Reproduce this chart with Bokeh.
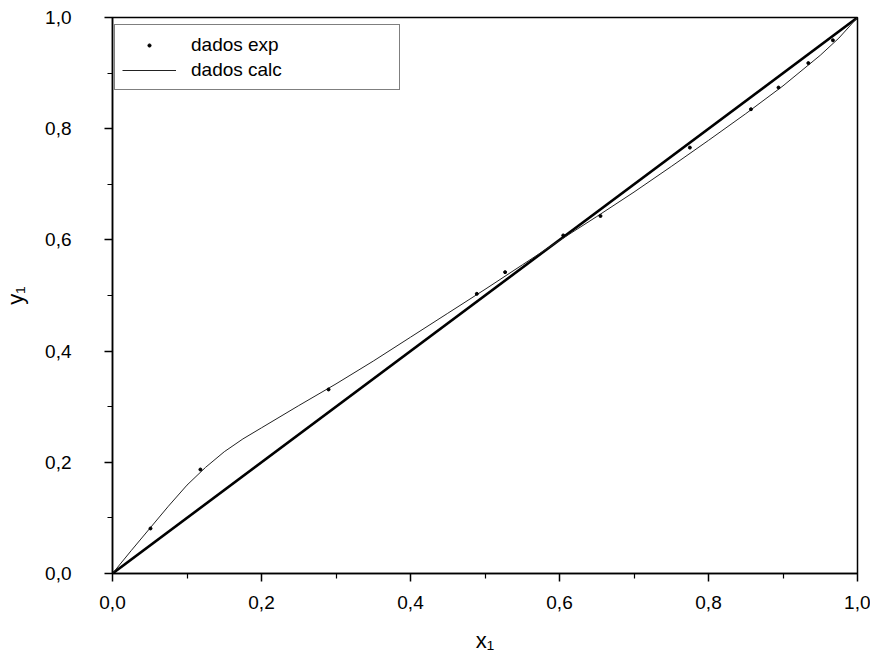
from bokeh.plotting import figure
from bokeh.models import FixedTicker, Legend, LegendItem, Range1d
from bokeh.embed import file_html
from bokeh.resources import INLINE

# ---- data ----
x_exp = [0.051, 0.118, 0.290, 0.489, 0.527, 0.605, 0.655, 0.775, 0.857, 0.894, 0.934, 0.967]
y_exp = [0.081, 0.187, 0.331, 0.503, 0.542, 0.608, 0.643, 0.766, 0.835, 0.874, 0.918, 0.959]

x_calc = [0.0, 0.025, 0.05, 0.075, 0.10, 0.125, 0.15, 0.175, 0.20, 0.25, 0.30, 0.35, 0.40,
          0.45, 0.50, 0.55, 0.60, 0.65, 0.70, 0.75, 0.80, 0.85, 0.90, 0.95, 0.975, 1.0]
y_calc = [0.0, 0.041, 0.081, 0.121, 0.159, 0.191, 0.219, 0.242, 0.262, 0.302, 0.341, 0.382, 0.425,
          0.468, 0.511, 0.555, 0.599, 0.642, 0.686, 0.732, 0.779, 0.827, 0.877, 0.932, 0.963, 1.0]

x_diag = [0.0, 1.0]
y_diag = [0.0, 1.0]

tick_values = [0.0, 0.2, 0.4, 0.6, 0.8, 1.0]
minor_values = [0.1, 0.3, 0.5, 0.7, 0.9]
tick_labels = ["0,0", "0,2", "0,4", "0,6", "0,8", "1,0"]

legend_labels = ["dados exp", "dados calc"]
x_title = "x\u2081"
y_title = "y\u2081"

FONT = "Liberation Sans"

p = figure(width=870, height=656, output_backend="svg", toolbar_location=None,
           x_range=Range1d(0, 1), y_range=Range1d(0, 1),
           min_border_left=111, min_border_right=13, min_border_top=17, min_border_bottom=83)
p.background_fill_color = "white"
p.border_fill_color = "white"
p.grid.visible = False
p.outline_line_color = "black"
p.outline_line_width = 1.5

for ax, title in ((p.xaxis[0], x_title), (p.yaxis[0], y_title)):
    ax.ticker = FixedTicker(ticks=tick_values, minor_ticks=minor_values)
    ax.major_label_overrides = dict(zip(tick_values, tick_labels))
    ax.axis_label = title
    ax.axis_line_color = "black"
    ax.axis_line_width = 1.5
    ax.major_tick_line_color = "black"
    ax.major_tick_line_width = 1.5
    ax.minor_tick_line_color = "black"
    ax.minor_tick_line_width = 1.2
    ax.major_tick_in = 0
    ax.major_tick_out = 8
    ax.minor_tick_in = 0
    ax.minor_tick_out = 5
    ax.major_label_text_font = FONT
    ax.major_label_text_font_size = "19px"
    ax.major_label_text_color = "black"
    ax.axis_label_text_font = FONT
    ax.axis_label_text_font_size = "22px"
    ax.axis_label_text_font_style = "normal"
    ax.axis_label_text_color = "black"

p.xaxis[0].major_label_standoff = 14
p.xaxis[0].axis_label_standoff = 16
p.yaxis[0].major_label_standoff = 33
p.yaxis[0].axis_label_standoff = 14
p.yaxis[0].major_label_orientation = "horizontal"

r_diag = p.line(x_diag, y_diag, line_color="black", line_width=2.6)
r_calc = p.line(x_calc, y_calc, line_color="#222222", line_width=1.0)
r_exp = p.scatter(x_exp, y_exp, size=3, marker="circle", fill_color="black", line_color="black")

legend = Legend(items=[LegendItem(label=legend_labels[0], renderers=[r_exp]),
                       LegendItem(label=legend_labels[1], renderers=[r_calc])],
                location=(2, 483), margin=0, padding=7, spacing=0,
                glyph_width=54, glyph_height=8, label_height=25, label_width=201,
                label_standoff=15,
                label_text_font=FONT, label_text_font_size="19px", label_text_color="black",
                border_line_color="black", border_line_width=1.5,
                background_fill_color="white", background_fill_alpha=1.0)
p.add_layout(legend, "center")

open("out.html", "w").write(file_html(p, INLINE))
